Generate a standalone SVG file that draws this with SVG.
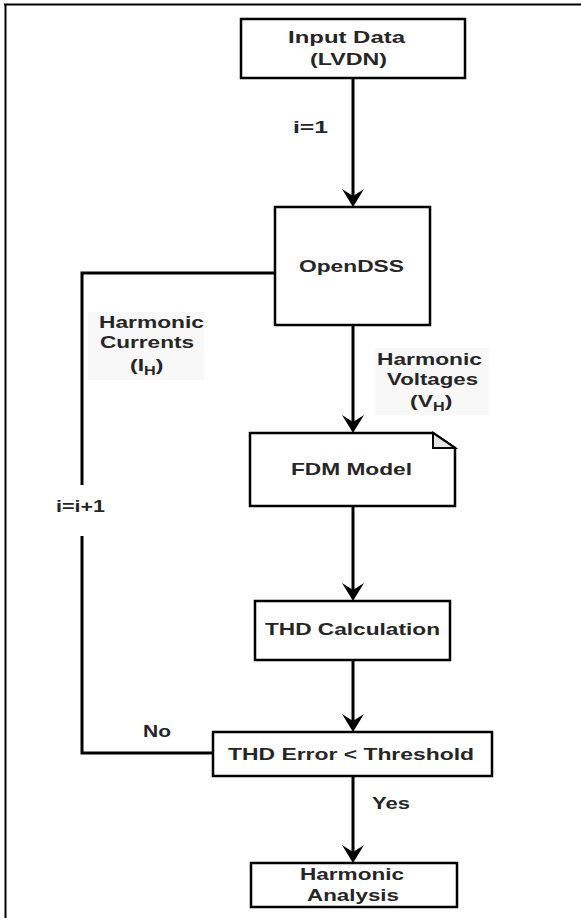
<svg xmlns="http://www.w3.org/2000/svg" width="581" height="918" viewBox="0 0 581 918">
<style>
.box{fill:#ffffff;stroke:#000000;stroke-width:2.5}
.fold{fill:#e4e4e4;stroke:#000000;stroke-width:2}
.con{fill:none;stroke:#000000;stroke-width:3}
.frame{fill:none;stroke:#000000;stroke-width:2}
.lbg{fill:#f8f8f8;stroke:none}
text{font-family:"Liberation Sans",Arial,sans-serif;font-size:17px;font-weight:bold;fill:#262626}
.sub{font-size:12px}
</style>
<defs>
<marker id="arr" markerUnits="userSpaceOnUse" viewBox="-10 -12 22 24" markerWidth="22" markerHeight="24" refX="0" refY="0" orient="auto">
<path d="M10,0 L-8,-11 L-1,0 L-8,11 Z" fill="#000000"/>
</marker>
</defs>
<path class="frame" d="M4,4.5 H581 M5.5,4 V918"/>
<g id="connectors">
<path class="con" d="M353,78 V197" marker-end="url(#arr)"/>
<path class="con" d="M353,325 V423" marker-end="url(#arr)"/>
<path class="con" d="M353,506 V591" marker-end="url(#arr)"/>
<path class="con" d="M353,660 V722" marker-end="url(#arr)"/>
<path class="con" d="M353,776 V853" marker-end="url(#arr)"/>
<path class="con" d="M213,753 H82 V536"/>
<path class="con" d="M82,485 V273 H275"/>
<text x="293" y="133" textLength="35" lengthAdjust="spacingAndGlyphs">i=1</text>
<text x="56" y="512" textLength="49" lengthAdjust="spacingAndGlyphs">i=i+1</text>
<text x="143" y="737" textLength="28" lengthAdjust="spacingAndGlyphs">No</text>
<text x="372" y="809" textLength="38" lengthAdjust="spacingAndGlyphs">Yes</text>
<g id="label-currents">
<rect class="lbg" x="88" y="312" width="116" height="68"/>
<text x="99" y="328" textLength="105" lengthAdjust="spacingAndGlyphs">Harmonic</text>
<text x="100" y="348" textLength="94" lengthAdjust="spacingAndGlyphs">Currents</text>
<g transform="translate(130,371) scale(1.35,1)"><text x="0" y="0">(I<tspan class="sub" dy="4">H</tspan><tspan dy="-4">)</tspan></text></g>
</g>
<g id="label-voltages">
<rect class="lbg" x="375" y="348" width="114" height="67"/>
<text x="377" y="365" textLength="105" lengthAdjust="spacingAndGlyphs">Harmonic</text>
<text x="387" y="385" textLength="91" lengthAdjust="spacingAndGlyphs">Voltages</text>
<g transform="translate(410,407) scale(1.35,1)"><text x="0" y="0">(V<tspan class="sub" dy="4">H</tspan><tspan dy="-4">)</tspan></text></g>
</g>
</g>
<g id="input-data">
<rect class="box" x="241" y="19" width="224" height="59"/>
<text x="288" y="43" textLength="117" lengthAdjust="spacingAndGlyphs">Input Data</text>
<text x="310" y="65" textLength="77" lengthAdjust="spacingAndGlyphs">(LVDN)</text>
</g>
<g id="opendss">
<rect class="box" x="275" y="207" width="155" height="118"/>
<text x="299" y="272" textLength="105" lengthAdjust="spacingAndGlyphs">OpenDSS</text>
</g>
<g id="fdm-model">
<path class="box" d="M250,433 H433 L455,448 V506 H250 Z"/>
<path class="fold" d="M433,433 V448 H455 Z"/>
<text x="291" y="475" textLength="121" lengthAdjust="spacingAndGlyphs">FDM Model</text>
</g>
<g id="thd-calculation">
<rect class="box" x="255" y="601" width="195" height="59"/>
<text x="265" y="635" textLength="175" lengthAdjust="spacingAndGlyphs">THD Calculation</text>
</g>
<g id="thd-error">
<rect class="box" x="213" y="732" width="279" height="44"/>
<text x="228" y="760" textLength="246" lengthAdjust="spacingAndGlyphs">THD Error &lt; Threshold</text>
</g>
<g id="harmonic-analysis">
<rect class="box" x="251" y="863" width="206" height="44"/>
<text x="300" y="880" textLength="104" lengthAdjust="spacingAndGlyphs">Harmonic</text>
<text x="307" y="901" textLength="92" lengthAdjust="spacingAndGlyphs">Analysis</text>
</g>
</svg>
